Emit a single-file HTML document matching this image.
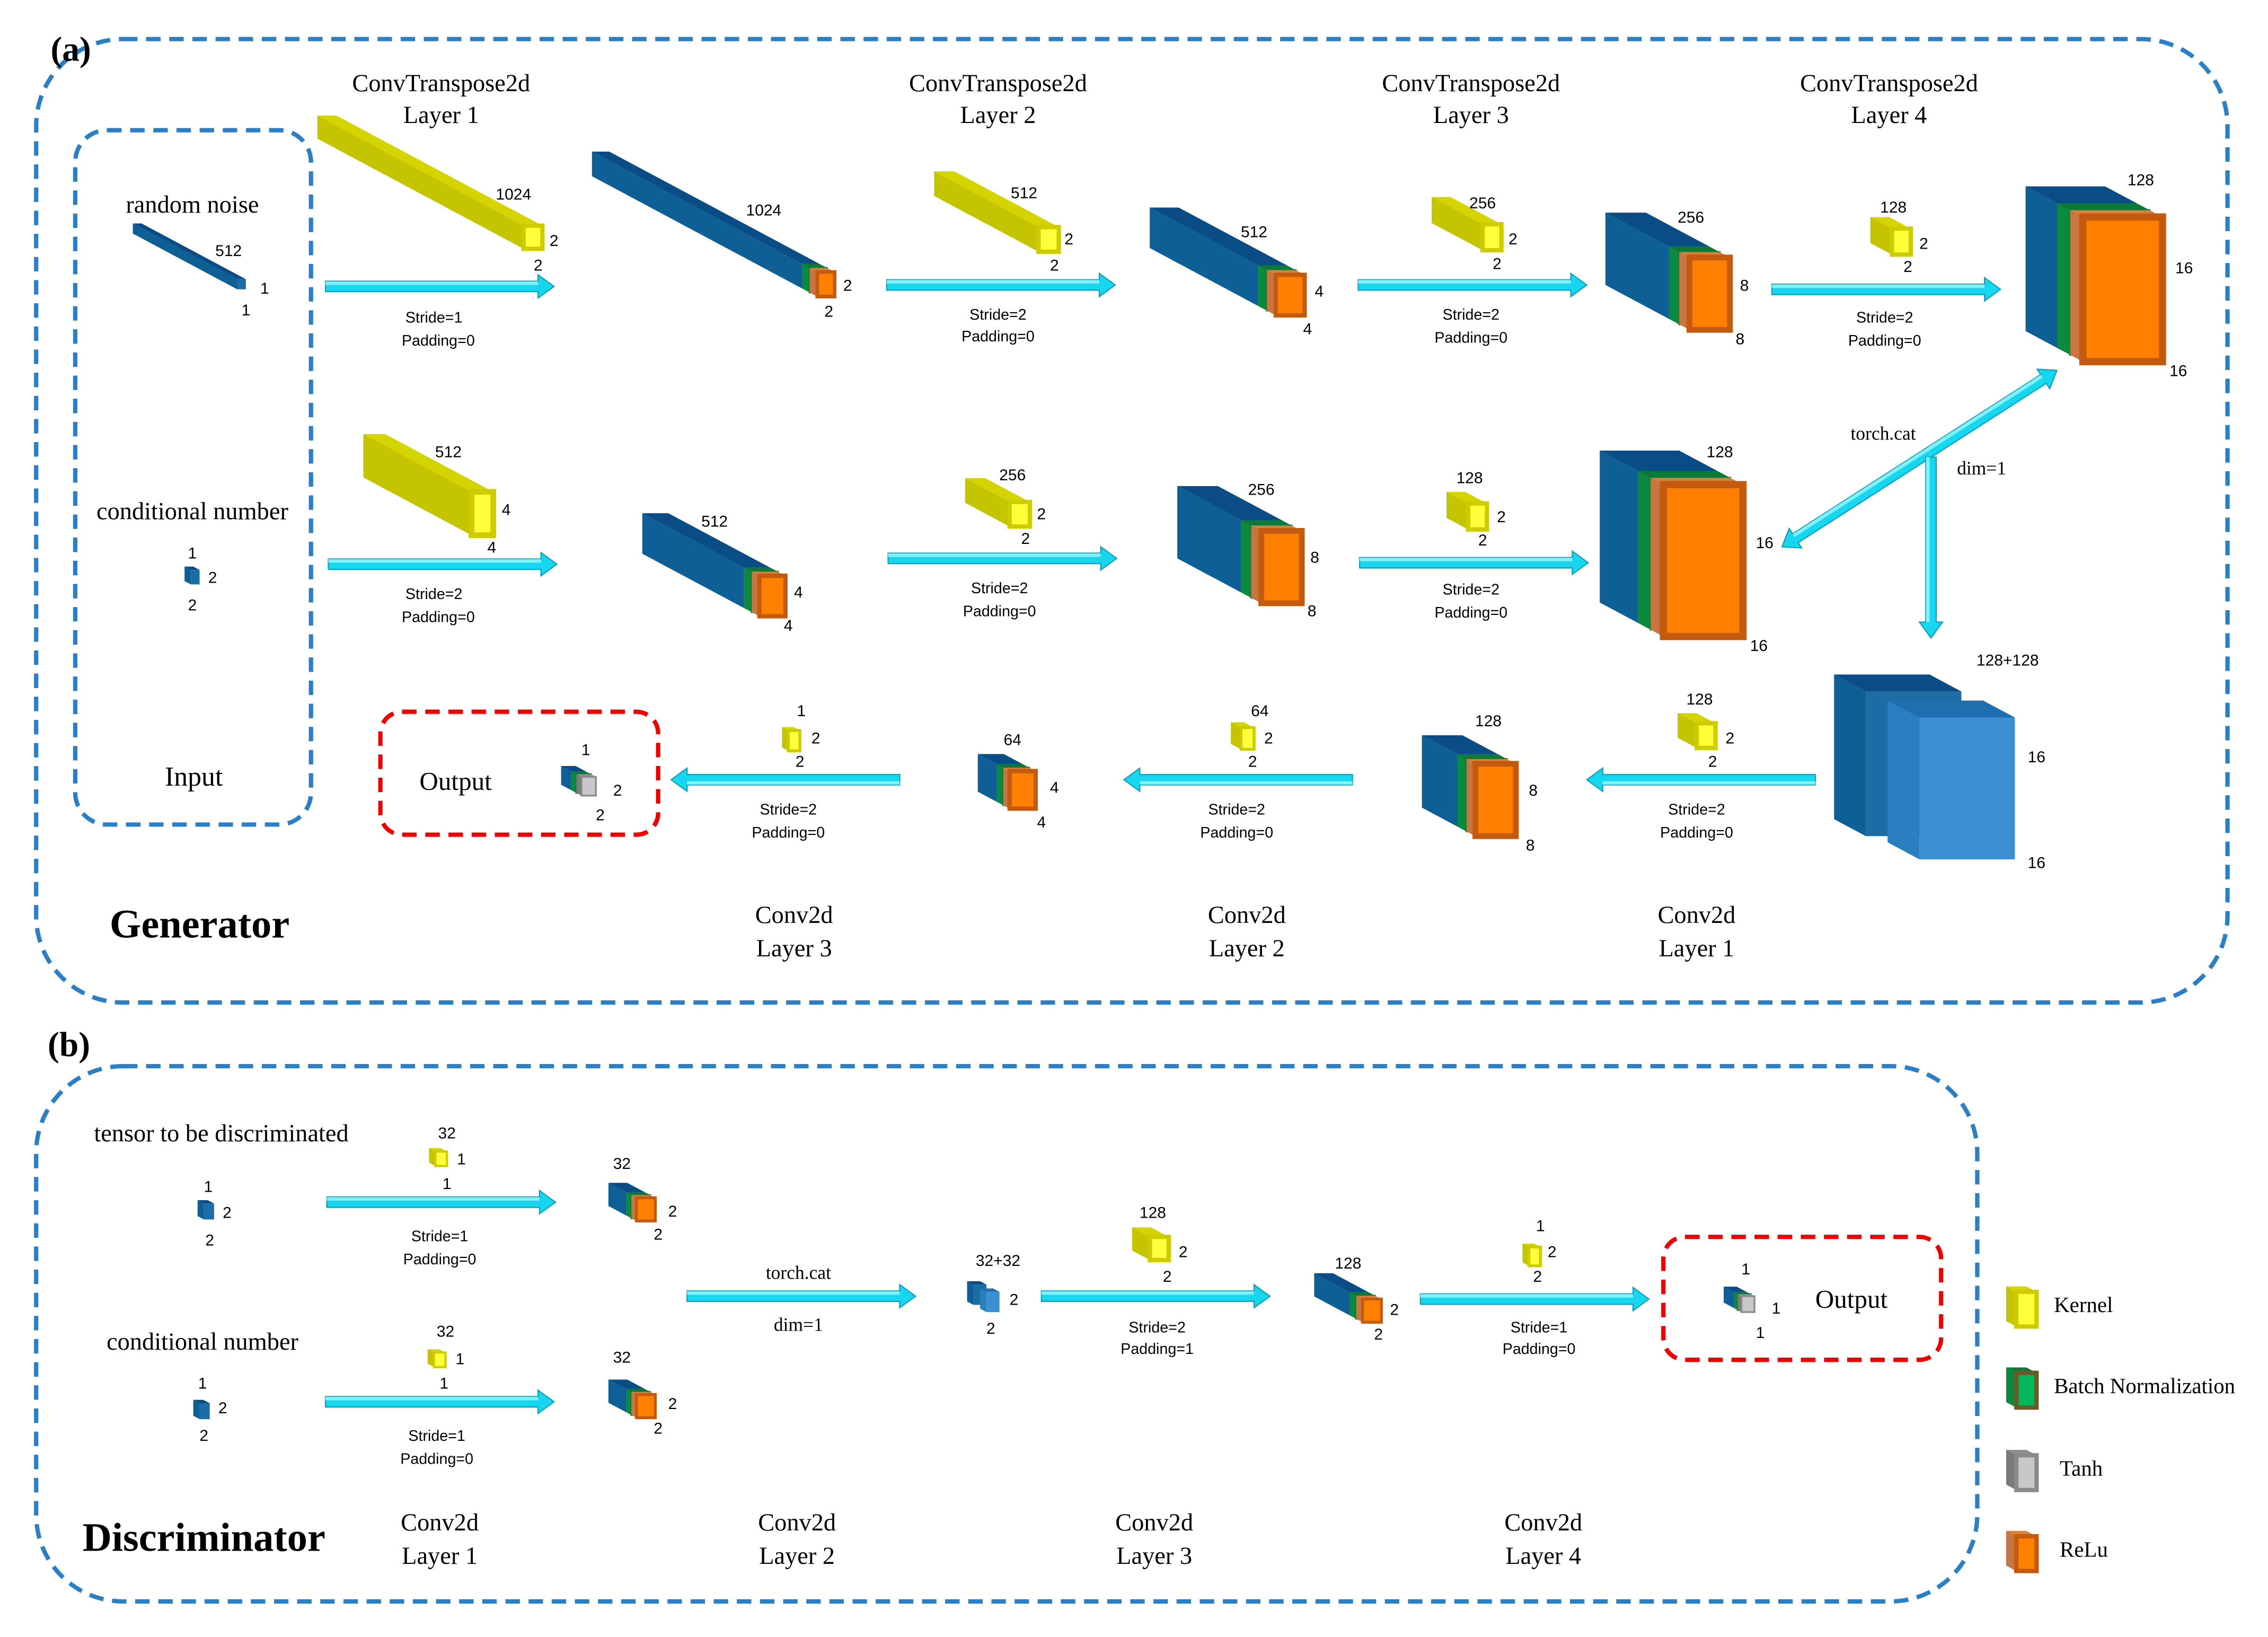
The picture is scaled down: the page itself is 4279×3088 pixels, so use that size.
<!DOCTYPE html>
<html><head><meta charset="utf-8">
<style>
html,body{margin:0;padding:0;background:#fff;}
svg{display:block;}
.s{font-family:"Liberation Serif",serif;fill:#000;}
.n{font-family:"Liberation Sans",sans-serif;font-size:11px;fill:#000;}
.p{font-family:"Liberation Sans",sans-serif;font-size:10.5px;fill:#000;}
.bf{fill:#1c6ca6}.bs{fill:#0e5f96}.bt{fill:#0a4c86}
.lf{fill:#3a90d2}.ls{fill:#2a7fc0}.lt{fill:#1f6fb0}
.gf{fill:#00b858;stroke:#0a7a36;stroke-width:1.2}.gs{fill:#0b8a3e}.gt{fill:#0a7a36}
.of{fill:#ff8000;stroke:#c45a10;stroke-width:1.5}.os{fill:#c97540}.ot{fill:#d8803e}
.yf{fill:#ffff3c;stroke:#cccc00;stroke-width:1.5}.ys{fill:#c4c400}.yt{fill:#d4d400}
.kf{fill:#c8c8c8;stroke:#8a8a8a;stroke-width:1.2}.ks{fill:#7a7a7a}.kt{fill:#8e8e8e}
.ar{fill:#17d6f0;stroke:#0b9fb8;stroke-width:0.8}
</style></head>
<body>
<svg width="4279" height="3088" viewBox="0 0 1568 1131.6" preserveAspectRatio="none" xmlns="http://www.w3.org/2000/svg" xmlns:xlink="http://www.w3.org/1999/xlink">
<defs>
<g id="ar"><polygon class="ar" points="0,-3.6 147,-3.6 147,-8 158,0 147,8 147,3.6 0,3.6"/><rect x="0" y="-3.4" width="147" height="2.4" fill="#80f2ff"/></g>
</defs>
<rect width="1568" height="1132" fill="#fff"/>
<g fill="none" stroke-width="3" stroke-dasharray="10 6">
<rect x="25" y="27" width="1515" height="666" rx="60" stroke="#2a7fc6"/>
<rect x="52" y="90" width="163" height="480" rx="22" stroke="#2a7fc6"/>
<rect x="25" y="737" width="1342" height="370" rx="60" stroke="#2a7fc6"/>
<rect x="263" y="492" width="192" height="85" rx="15" stroke="#f00000"/>
<rect x="1150" y="855" width="192" height="85" rx="15" stroke="#f00000"/>
</g>

<!-- row1 -->
<g transform="translate(164,193)"><rect class="bt" width="6" height="82" transform="matrix(1,0,-.88,-.47,0,0)"/><rect class="bs" width="82" height="7" transform="matrix(-.88,-.47,0,1,0,0)"/><rect class="bf" width="6" height="7"/></g>
<g transform="translate(362,156)"><rect class="yt" width="13" height="162" transform="matrix(1,0,-.88,-.47,0,0)"/><rect class="ys" width="162" height="16" transform="matrix(-.88,-.47,0,1,0,0)"/><rect class="yf" width="13" height="16" style="stroke-width:3"/></g>
<g transform="translate(554.44,182.36)"><rect class="bt" width="12" height="165" transform="matrix(1,0,-.88,-.47,0,0)"/><rect class="bs" width="165" height="17" transform="matrix(-.88,-.47,0,1,0,0)"/><rect class="bf" width="12" height="17"/></g>
<g transform="translate(559.72,185.18)"><rect class="gt" width="12" height="6" transform="matrix(1,0,-.88,-.47,0,0)"/><rect class="gs" width="6" height="17" transform="matrix(-.88,-.47,0,1,0,0)"/><rect class="gf" width="12" height="17"/></g>
<g transform="translate(565,188)"><rect class="ot" width="12" height="6" transform="matrix(1,0,-.88,-.47,0,0)"/><rect class="os" width="6" height="17" transform="matrix(-.88,-.47,0,1,0,0)"/><rect class="of" width="12" height="17" style="stroke-width:2.5"/></g>
<g transform="translate(718,157)"><rect class="yt" width="14" height="82" transform="matrix(1,0,-.88,-.47,0,0)"/><rect class="ys" width="82" height="17" transform="matrix(-.88,-.47,0,1,0,0)"/><rect class="yf" width="14" height="17" style="stroke-width:3"/></g>
<g transform="translate(869.68,183.42)"><rect class="bt" width="20" height="85" transform="matrix(1,0,-.88,-.47,0,0)"/><rect class="bs" width="85" height="28" transform="matrix(-.88,-.47,0,1,0,0)"/><rect class="bf" width="20" height="28"/></g>
<g transform="translate(875.84,186.71)"><rect class="gt" width="20" height="7" transform="matrix(1,0,-.88,-.47,0,0)"/><rect class="gs" width="7" height="28" transform="matrix(-.88,-.47,0,1,0,0)"/><rect class="gf" width="20" height="28"/></g>
<g transform="translate(882,190)"><rect class="ot" width="20" height="7" transform="matrix(1,0,-.88,-.47,0,0)"/><rect class="os" width="7" height="28" transform="matrix(-.88,-.47,0,1,0,0)"/><rect class="of" width="20" height="28" style="stroke-width:3"/></g>
<g transform="translate(1025,155)"><rect class="yt" width="13" height="40" transform="matrix(1,0,-.88,-.47,0,0)"/><rect class="ys" width="40" height="18" transform="matrix(-.88,-.47,0,1,0,0)"/><rect class="yf" width="13" height="18" style="stroke-width:3"/></g>
<g transform="translate(1153.92,170.48)"><rect class="bt" width="28" height="50" transform="matrix(1,0,-.88,-.47,0,0)"/><rect class="bs" width="50" height="50" transform="matrix(-.88,-.47,0,1,0,0)"/><rect class="bf" width="28" height="50"/></g>
<g transform="translate(1160.96,174.24)"><rect class="gt" width="28" height="8" transform="matrix(1,0,-.88,-.47,0,0)"/><rect class="gs" width="8" height="50" transform="matrix(-.88,-.47,0,1,0,0)"/><rect class="gf" width="28" height="50"/></g>
<g transform="translate(1168,178)"><rect class="ot" width="28" height="8" transform="matrix(1,0,-.88,-.47,0,0)"/><rect class="os" width="8" height="50" transform="matrix(-.88,-.47,0,1,0,0)"/><rect class="of" width="28" height="50" style="stroke-width:4"/></g>
<g transform="translate(1308,158)"><rect class="yt" width="13" height="17" transform="matrix(1,0,-.88,-.47,0,0)"/><rect class="ys" width="17" height="18" transform="matrix(-.88,-.47,0,1,0,0)"/><rect class="yf" width="13" height="18" style="stroke-width:3"/></g>
<g transform="translate(1422.4,140.6)"><rect class="bt" width="55" height="25" transform="matrix(1,0,-.88,-.47,0,0)"/><rect class="bs" width="25" height="100" transform="matrix(-.88,-.47,0,1,0,0)"/><rect class="bf" width="55" height="100"/></g>
<g transform="translate(1431.2,145.3)"><rect class="gt" width="55" height="10" transform="matrix(1,0,-.88,-.47,0,0)"/><rect class="gs" width="10" height="100" transform="matrix(-.88,-.47,0,1,0,0)"/><rect class="gf" width="55" height="100"/></g>
<g transform="translate(1440,150)"><rect class="ot" width="55" height="10" transform="matrix(1,0,-.88,-.47,0,0)"/><rect class="os" width="10" height="100" transform="matrix(-.88,-.47,0,1,0,0)"/><rect class="of" width="55" height="100" style="stroke-width:5"/></g>
<!-- row2 -->
<g transform="translate(132,394)"><rect class="bt" width="6" height="5" transform="matrix(1,0,-.88,-.47,0,0)"/><rect class="bs" width="5" height="10" transform="matrix(-.88,-.47,0,1,0,0)"/><rect class="bf" width="6" height="10"/></g>
<g transform="translate(326,340)"><rect class="yt" width="15" height="85" transform="matrix(1,0,-.88,-.47,0,0)"/><rect class="ys" width="85" height="30" transform="matrix(-.88,-.47,0,1,0,0)"/><rect class="yf" width="15" height="30" style="stroke-width:4"/></g>
<g transform="translate(514.44,392.36)"><rect class="bt" width="18" height="80" transform="matrix(1,0,-.88,-.47,0,0)"/><rect class="bs" width="80" height="28" transform="matrix(-.88,-.47,0,1,0,0)"/><rect class="bf" width="18" height="28"/></g>
<g transform="translate(519.72,395.18)"><rect class="gt" width="18" height="6" transform="matrix(1,0,-.88,-.47,0,0)"/><rect class="gs" width="6" height="28" transform="matrix(-.88,-.47,0,1,0,0)"/><rect class="gf" width="18" height="28"/></g>
<g transform="translate(525,398)"><rect class="ot" width="18" height="6" transform="matrix(1,0,-.88,-.47,0,0)"/><rect class="os" width="6" height="28" transform="matrix(-.88,-.47,0,1,0,0)"/><rect class="of" width="18" height="28" style="stroke-width:3"/></g>
<g transform="translate(698,347)"><rect class="yt" width="14" height="35" transform="matrix(1,0,-.88,-.47,0,0)"/><rect class="ys" width="35" height="17" transform="matrix(-.88,-.47,0,1,0,0)"/><rect class="yf" width="14" height="17" style="stroke-width:3"/></g>
<g transform="translate(857.92,359.48)"><rect class="bt" width="28" height="50" transform="matrix(1,0,-.88,-.47,0,0)"/><rect class="bs" width="50" height="50" transform="matrix(-.88,-.47,0,1,0,0)"/><rect class="bf" width="28" height="50"/></g>
<g transform="translate(864.96,363.24)"><rect class="gt" width="28" height="8" transform="matrix(1,0,-.88,-.47,0,0)"/><rect class="gs" width="8" height="50" transform="matrix(-.88,-.47,0,1,0,0)"/><rect class="gf" width="28" height="50"/></g>
<g transform="translate(872,367)"><rect class="ot" width="28" height="8" transform="matrix(1,0,-.88,-.47,0,0)"/><rect class="os" width="8" height="50" transform="matrix(-.88,-.47,0,1,0,0)"/><rect class="of" width="28" height="50" style="stroke-width:4"/></g>
<g transform="translate(1015,348)"><rect class="yt" width="13" height="17" transform="matrix(1,0,-.88,-.47,0,0)"/><rect class="ys" width="17" height="18" transform="matrix(-.88,-.47,0,1,0,0)"/><rect class="yf" width="13" height="18" style="stroke-width:3"/></g>
<g transform="translate(1132.4,325.6)"><rect class="bt" width="55" height="30" transform="matrix(1,0,-.88,-.47,0,0)"/><rect class="bs" width="30" height="105" transform="matrix(-.88,-.47,0,1,0,0)"/><rect class="bf" width="55" height="105"/></g>
<g transform="translate(1141.2,330.3)"><rect class="gt" width="55" height="10" transform="matrix(1,0,-.88,-.47,0,0)"/><rect class="gs" width="10" height="105" transform="matrix(-.88,-.47,0,1,0,0)"/><rect class="gf" width="55" height="105"/></g>
<g transform="translate(1150,335)"><rect class="ot" width="55" height="10" transform="matrix(1,0,-.88,-.47,0,0)"/><rect class="os" width="10" height="105" transform="matrix(-.88,-.47,0,1,0,0)"/><rect class="of" width="55" height="105" style="stroke-width:5"/></g>
<!-- row3 -->
<g transform="translate(1290,478)"><rect class="bt" width="66" height="25" transform="matrix(1,0,-.88,-.47,0,0)"/><rect class="bs" width="25" height="100" transform="matrix(-.88,-.47,0,1,0,0)"/><rect class="bf" width="66" height="100"/></g>
<g transform="translate(1327,496)"><rect class="lt" width="66" height="25" transform="matrix(1,0,-.88,-.47,0,0)"/><rect class="ls" width="25" height="98" transform="matrix(-.88,-.47,0,1,0,0)"/><rect class="lf" width="66" height="98"/></g>
<g transform="translate(1173,500)"><rect class="yt" width="13" height="15" transform="matrix(1,0,-.88,-.47,0,0)"/><rect class="ys" width="15" height="17" transform="matrix(-.88,-.47,0,1,0,0)"/><rect class="yf" width="13" height="17" style="stroke-width:3"/></g>
<g transform="translate(1007.68,521.42)"><rect class="bt" width="28" height="28" transform="matrix(1,0,-.88,-.47,0,0)"/><rect class="bs" width="28" height="50" transform="matrix(-.88,-.47,0,1,0,0)"/><rect class="bf" width="28" height="50"/></g>
<g transform="translate(1013.84,524.71)"><rect class="gt" width="28" height="7" transform="matrix(1,0,-.88,-.47,0,0)"/><rect class="gs" width="7" height="50" transform="matrix(-.88,-.47,0,1,0,0)"/><rect class="gf" width="28" height="50"/></g>
<g transform="translate(1020,528)"><rect class="ot" width="28" height="7" transform="matrix(1,0,-.88,-.47,0,0)"/><rect class="os" width="7" height="50" transform="matrix(-.88,-.47,0,1,0,0)"/><rect class="of" width="28" height="50" style="stroke-width:4"/></g>
<g transform="translate(858,503)"><rect class="yt" width="9" height="8" transform="matrix(1,0,-.88,-.47,0,0)"/><rect class="ys" width="8" height="15" transform="matrix(-.88,-.47,0,1,0,0)"/><rect class="yf" width="9" height="15" style="stroke-width:2"/></g>
<g transform="translate(689.2,528.3)"><rect class="bt" width="18" height="15" transform="matrix(1,0,-.88,-.47,0,0)"/><rect class="bs" width="15" height="26" transform="matrix(-.88,-.47,0,1,0,0)"/><rect class="bf" width="18" height="26"/></g>
<g transform="translate(693.6,530.65)"><rect class="gt" width="18" height="5" transform="matrix(1,0,-.88,-.47,0,0)"/><rect class="gs" width="5" height="26" transform="matrix(-.88,-.47,0,1,0,0)"/><rect class="gf" width="18" height="26"/></g>
<g transform="translate(698,533)"><rect class="ot" width="18" height="5" transform="matrix(1,0,-.88,-.47,0,0)"/><rect class="os" width="5" height="26" transform="matrix(-.88,-.47,0,1,0,0)"/><rect class="of" width="18" height="26" style="stroke-width:3"/></g>
<g transform="translate(545,505)"><rect class="yt" width="8" height="5" transform="matrix(1,0,-.88,-.47,0,0)"/><rect class="ys" width="5" height="14" transform="matrix(-.88,-.47,0,1,0,0)"/><rect class="yf" width="8" height="14" style="stroke-width:2"/></g>
<g transform="translate(394.96,533.24)"><rect class="bt" width="10" height="8" transform="matrix(1,0,-.88,-.47,0,0)"/><rect class="bs" width="8" height="13" transform="matrix(-.88,-.47,0,1,0,0)"/><rect class="bf" width="10" height="13"/></g>
<g transform="translate(398.48,535.12)"><rect class="gt" width="10" height="4" transform="matrix(1,0,-.88,-.47,0,0)"/><rect class="gs" width="4" height="13" transform="matrix(-.88,-.47,0,1,0,0)"/><rect class="gf" width="10" height="13"/></g>
<g transform="translate(402,537)"><rect class="kt" width="10" height="4" transform="matrix(1,0,-.88,-.47,0,0)"/><rect class="ks" width="4" height="13" transform="matrix(-.88,-.47,0,1,0,0)"/><rect class="kf" width="10" height="13"/></g>
<!-- (b) -->
<g transform="translate(141,832)"><rect class="bt" width="7" height="5" transform="matrix(1,0,-.88,-.47,0,0)"/><rect class="bs" width="5" height="11" transform="matrix(-.88,-.47,0,1,0,0)"/><rect class="bf" width="7" height="11"/></g>
<g transform="translate(301,796)"><rect class="yt" width="8" height="5" transform="matrix(1,0,-.88,-.47,0,0)"/><rect class="ys" width="5" height="10" transform="matrix(-.88,-.47,0,1,0,0)"/><rect class="yf" width="8" height="10"/></g>
<g transform="translate(432.96,824.24)"><rect class="bt" width="13" height="14" transform="matrix(1,0,-.88,-.47,0,0)"/><rect class="bs" width="14" height="16" transform="matrix(-.88,-.47,0,1,0,0)"/><rect class="bf" width="13" height="16"/></g>
<g transform="translate(436.48,826.12)"><rect class="gt" width="13" height="4" transform="matrix(1,0,-.88,-.47,0,0)"/><rect class="gs" width="4" height="16" transform="matrix(-.88,-.47,0,1,0,0)"/><rect class="gf" width="13" height="16"/></g>
<g transform="translate(440,828)"><rect class="ot" width="13" height="4" transform="matrix(1,0,-.88,-.47,0,0)"/><rect class="os" width="4" height="16" transform="matrix(-.88,-.47,0,1,0,0)"/><rect class="of" width="13" height="16" style="stroke-width:2"/></g>
<g transform="translate(138,970)"><rect class="bt" width="7" height="5" transform="matrix(1,0,-.88,-.47,0,0)"/><rect class="bs" width="5" height="11" transform="matrix(-.88,-.47,0,1,0,0)"/><rect class="bf" width="7" height="11"/></g>
<g transform="translate(300,935)"><rect class="yt" width="8" height="5" transform="matrix(1,0,-.88,-.47,0,0)"/><rect class="ys" width="5" height="10" transform="matrix(-.88,-.47,0,1,0,0)"/><rect class="yf" width="8" height="10"/></g>
<g transform="translate(432.96,960.24)"><rect class="bt" width="13" height="14" transform="matrix(1,0,-.88,-.47,0,0)"/><rect class="bs" width="14" height="16" transform="matrix(-.88,-.47,0,1,0,0)"/><rect class="bf" width="13" height="16"/></g>
<g transform="translate(436.48,962.12)"><rect class="gt" width="13" height="4" transform="matrix(1,0,-.88,-.47,0,0)"/><rect class="gs" width="4" height="16" transform="matrix(-.88,-.47,0,1,0,0)"/><rect class="gf" width="13" height="16"/></g>
<g transform="translate(440,964)"><rect class="ot" width="13" height="4" transform="matrix(1,0,-.88,-.47,0,0)"/><rect class="os" width="4" height="16" transform="matrix(-.88,-.47,0,1,0,0)"/><rect class="of" width="13" height="16" style="stroke-width:2"/></g>
<g transform="translate(673,888)"><rect class="bt" width="9" height="5" transform="matrix(1,0,-.88,-.47,0,0)"/><rect class="bs" width="5" height="14" transform="matrix(-.88,-.47,0,1,0,0)"/><rect class="bf" width="9" height="14"/></g>
<g transform="translate(682,893)"><rect class="lt" width="9" height="5" transform="matrix(1,0,-.88,-.47,0,0)"/><rect class="ls" width="5" height="14" transform="matrix(-.88,-.47,0,1,0,0)"/><rect class="lf" width="9" height="14"/></g>
<g transform="translate(795,855)"><rect class="yt" width="13" height="14" transform="matrix(1,0,-.88,-.47,0,0)"/><rect class="ys" width="14" height="16" transform="matrix(-.88,-.47,0,1,0,0)"/><rect class="yf" width="13" height="16" style="stroke-width:3"/></g>
<g transform="translate(933.2,893.3)"><rect class="bt" width="13" height="28" transform="matrix(1,0,-.88,-.47,0,0)"/><rect class="bs" width="28" height="16" transform="matrix(-.88,-.47,0,1,0,0)"/><rect class="bf" width="13" height="16"/></g>
<g transform="translate(937.6,895.65)"><rect class="gt" width="13" height="5" transform="matrix(1,0,-.88,-.47,0,0)"/><rect class="gs" width="5" height="16" transform="matrix(-.88,-.47,0,1,0,0)"/><rect class="gf" width="13" height="16"/></g>
<g transform="translate(942,898)"><rect class="ot" width="13" height="5" transform="matrix(1,0,-.88,-.47,0,0)"/><rect class="os" width="5" height="16" transform="matrix(-.88,-.47,0,1,0,0)"/><rect class="of" width="13" height="16" style="stroke-width:2"/></g>
<g transform="translate(1057,862)"><rect class="yt" width="8" height="5" transform="matrix(1,0,-.88,-.47,0,0)"/><rect class="ys" width="5" height="13" transform="matrix(-.88,-.47,0,1,0,0)"/><rect class="yf" width="8" height="13" style="stroke-width:2"/></g>
<g transform="translate(1198.72,893.18)"><rect class="bt" width="9" height="8" transform="matrix(1,0,-.88,-.47,0,0)"/><rect class="bs" width="8" height="11" transform="matrix(-.88,-.47,0,1,0,0)"/><rect class="bf" width="9" height="11"/></g>
<g transform="translate(1201.36,894.59)"><rect class="gt" width="9" height="3" transform="matrix(1,0,-.88,-.47,0,0)"/><rect class="gs" width="3" height="11" transform="matrix(-.88,-.47,0,1,0,0)"/><rect class="gf" width="9" height="11"/></g>
<g transform="translate(1204,896)"><rect class="kt" width="9" height="3" transform="matrix(1,0,-.88,-.47,0,0)"/><rect class="ks" width="3" height="11" transform="matrix(-.88,-.47,0,1,0,0)"/><rect class="kf" width="9" height="11"/></g>
<!-- legend -->
<g transform="translate(1394,893)"><rect class="yt" width="14" height="8" transform="matrix(1,0,-.88,-.47,0,0)"/><rect class="ys" width="8" height="24" transform="matrix(-.88,-.47,0,1,0,0)"/><rect class="yf" width="14" height="24" style="stroke-width:3"/></g>
<g transform="translate(1394,949)"><rect class="gt" width="14" height="8" transform="matrix(1,0,-.88,-.47,0,0)"/><rect class="gs" width="8" height="24" transform="matrix(-.88,-.47,0,1,0,0)"/><rect class="gf" width="14" height="24" style="stroke-width:3;stroke:#6a5a2a"/></g>
<g transform="translate(1394,1006)"><rect class="kt" width="14" height="8" transform="matrix(1,0,-.88,-.47,0,0)"/><rect class="ks" width="8" height="24" transform="matrix(-.88,-.47,0,1,0,0)"/><rect class="kf" width="14" height="24" style="stroke-width:3"/></g>
<g transform="translate(1394,1062)"><rect class="ot" width="14" height="8" transform="matrix(1,0,-.88,-.47,0,0)"/><rect class="os" width="8" height="24" transform="matrix(-.88,-.47,0,1,0,0)"/><rect class="of" width="14" height="24" style="stroke-width:3"/></g>

<!-- arrows -->
<use xlink:href="#ar" href="#ar" transform="translate(225,198)"/>
<use xlink:href="#ar" href="#ar" transform="translate(613,197)"/>
<use xlink:href="#ar" href="#ar" transform="translate(939,197)"/>
<use xlink:href="#ar" href="#ar" transform="translate(1225,200)"/>
<use xlink:href="#ar" href="#ar" transform="translate(227,390)"/>
<use xlink:href="#ar" href="#ar" transform="translate(614,386)"/>
<use xlink:href="#ar" href="#ar" transform="translate(940,389)"/>
<use xlink:href="#ar" href="#ar" transform="translate(1255,539) rotate(180)"/>
<use xlink:href="#ar" href="#ar" transform="translate(935,539) rotate(180)"/>
<use xlink:href="#ar" href="#ar" transform="translate(622,539) rotate(180)"/>
<use xlink:href="#ar" href="#ar" transform="translate(226,831)"/>
<use xlink:href="#ar" href="#ar" transform="translate(225,969)"/>
<use xlink:href="#ar" href="#ar" transform="translate(475,896)"/>
<use xlink:href="#ar" href="#ar" transform="translate(720,896)"/>
<use xlink:href="#ar" href="#ar" transform="translate(982,898)"/>
<g transform="translate(1232,378) rotate(-32.7)"><polygon class="ar" points="11,-3.6 214.8,-3.6 214.8,-8 225.8,0 214.8,8 214.8,3.6 11,3.6 11,8 0,0 11,-8"/><rect x="11" y="-3.4" width="203.8" height="2.4" fill="#80f2ff"/></g>
<g transform="translate(1335,316) rotate(90)"><polygon class="ar" points="0,-3.6 114,-3.6 114,-8 125,0 114,8 114,3.6 0,3.6"/><rect x="0" y="1" width="114" height="2.4" fill="#80f2ff"/></g>

<!-- texts -->
<text class="s" x="35" y="42" font-size="24" font-weight="bold">(a)</text>
<text class="s" x="33" y="730" font-size="24" font-weight="bold">(b)</text>
<g class="s" font-size="17" text-anchor="middle">
<text x="305" y="63">ConvTranspose2d</text><text x="305" y="85">Layer 1</text>
<text x="690" y="63">ConvTranspose2d</text><text x="690" y="85">Layer 2</text>
<text x="1017" y="63">ConvTranspose2d</text><text x="1017" y="85">Layer 3</text>
<text x="1306" y="63">ConvTranspose2d</text><text x="1306" y="85">Layer 4</text>
<text x="133" y="147">random noise</text>
<text x="133" y="359">conditional number</text>
<text x="134" y="543" font-size="19">Input</text>
<text x="315" y="546" font-size="18">Output</text>
<text x="1280" y="904" font-size="18">Output</text>
<text x="549" y="638">Conv2d</text><text x="549" y="661">Layer 3</text>
<text x="862" y="638">Conv2d</text><text x="862" y="661">Layer 2</text>
<text x="1173" y="638">Conv2d</text><text x="1173" y="661">Layer 1</text>
<text x="153" y="789">tensor to be discriminated</text>
<text x="140" y="933">conditional number</text>
<text x="304" y="1058">Conv2d</text><text x="304" y="1081">Layer 1</text>
<text x="551" y="1058">Conv2d</text><text x="551" y="1081">Layer 2</text>
<text x="798" y="1058">Conv2d</text><text x="798" y="1081">Layer 3</text>
<text x="1067" y="1058">Conv2d</text><text x="1067" y="1081">Layer 4</text>
<text x="1302" y="304" font-size="13">torch.cat</text>
<text x="1370" y="328" font-size="13">dim=1</text>
<text x="552" y="884" font-size="13">torch.cat</text>
<text x="552" y="920" font-size="13">dim=1</text>
</g>
<text class="s" x="138" y="648" font-size="28" font-weight="bold" text-anchor="middle">Generator</text>
<text class="s" x="141" y="1072" font-size="28" font-weight="bold" text-anchor="middle">Discriminator</text>
<g class="s" font-size="15">
<text x="1420" y="907">Kernel</text>
<text x="1420" y="963">Batch Normalization</text>
<text x="1424" y="1020">Tanh</text>
<text x="1424" y="1076">ReLu</text>
</g>
<g class="p" text-anchor="middle">
<text x="300" y="223">Stride=1</text><text x="303" y="239">Padding=0</text>
<text x="690" y="221">Stride=2</text><text x="690" y="236">Padding=0</text>
<text x="1017" y="221">Stride=2</text><text x="1017" y="237">Padding=0</text>
<text x="1303" y="223">Stride=2</text><text x="1303" y="239">Padding=0</text>
<text x="300" y="414">Stride=2</text><text x="303" y="430">Padding=0</text>
<text x="691" y="410">Stride=2</text><text x="691" y="426">Padding=0</text>
<text x="1017" y="411">Stride=2</text><text x="1017" y="427">Padding=0</text>
<text x="1173" y="563">Stride=2</text><text x="1173" y="579">Padding=0</text>
<text x="855" y="563">Stride=2</text><text x="855" y="579">Padding=0</text>
<text x="545" y="563">Stride=2</text><text x="545" y="579">Padding=0</text>
<text x="304" y="858">Stride=1</text><text x="304" y="874">Padding=0</text>
<text x="302" y="996">Stride=1</text><text x="302" y="1012">Padding=0</text>
<text x="800" y="921">Stride=2</text><text x="800" y="936">Padding=1</text>
<text x="1064" y="921">Stride=1</text><text x="1064" y="936">Padding=0</text>
</g>
<g class="n" text-anchor="middle">
<text x="158" y="177">512</text><text x="183" y="203">1</text><text x="170" y="218">1</text>
<text x="355" y="138">1024</text><text x="383" y="170">2</text><text x="372" y="187">2</text>
<text x="528" y="149">1024</text><text x="586" y="201">2</text><text x="573" y="219">2</text>
<text x="708" y="137">512</text><text x="739" y="169">2</text><text x="729" y="187">2</text>
<text x="867" y="164">512</text><text x="912" y="205">4</text><text x="904" y="231">4</text>
<text x="1025" y="144">256</text><text x="1046" y="169">2</text><text x="1035" y="186">2</text>
<text x="1169" y="154">256</text><text x="1206" y="201">8</text><text x="1203" y="238">8</text>
<text x="1309" y="147">128</text><text x="1330" y="172">2</text><text x="1319" y="188">2</text>
<text x="1480" y="128">128</text><text x="1510" y="189">16</text><text x="1506" y="260">16</text>
<text x="133" y="386">1</text><text x="147" y="403">2</text><text x="133" y="422">2</text>
<text x="310" y="316">512</text><text x="350" y="356">4</text><text x="340" y="382">4</text>
<text x="494" y="364">512</text><text x="552" y="413">4</text><text x="545" y="436">4</text>
<text x="700" y="332">256</text><text x="720" y="359">2</text><text x="709" y="376">2</text>
<text x="872" y="342">256</text><text x="909" y="389">8</text><text x="907" y="426">8</text>
<text x="1016" y="334">128</text><text x="1038" y="361">2</text><text x="1025" y="377">2</text>
<text x="1189" y="316">128</text><text x="1220" y="379">16</text><text x="1216" y="450">16</text>
<text x="1388" y="460">128+128</text><text x="1408" y="527">16</text><text x="1408" y="600">16</text>
<text x="1175" y="487">128</text><text x="1196" y="514">2</text><text x="1184" y="530">2</text>
<text x="1029" y="502">128</text><text x="1060" y="550">8</text><text x="1058" y="588">8</text>
<text x="871" y="495">64</text><text x="877" y="514">2</text><text x="866" y="530">2</text>
<text x="700" y="515">64</text><text x="729" y="548">4</text><text x="720" y="572">4</text>
<text x="554" y="495">1</text><text x="564" y="514">2</text><text x="553" y="530">2</text>
<text x="405" y="522">1</text><text x="427" y="550">2</text><text x="415" y="567">2</text>
<text x="144" y="824">1</text><text x="157" y="842">2</text><text x="145" y="861">2</text>
<text x="309" y="787">32</text><text x="319" y="805">1</text><text x="309" y="822">1</text>
<text x="430" y="808">32</text><text x="465" y="841">2</text><text x="455" y="857">2</text>
<text x="140" y="960">1</text><text x="154" y="977">2</text><text x="141" y="996">2</text>
<text x="308" y="924">32</text><text x="318" y="943">1</text><text x="307" y="960">1</text>
<text x="430" y="942">32</text><text x="465" y="974">2</text><text x="455" y="991">2</text>
<text x="690" y="875">32+32</text><text x="701" y="902">2</text><text x="685" y="922">2</text>
<text x="797" y="842">128</text><text x="818" y="869">2</text><text x="807" y="886">2</text>
<text x="932" y="877">128</text><text x="964" y="909">2</text><text x="953" y="926">2</text>
<text x="1065" y="851">1</text><text x="1073" y="869">2</text><text x="1063" y="886">2</text>
<text x="1207" y="881">1</text><text x="1228" y="908">1</text><text x="1217" y="925">1</text>
</g>
</svg>
</body></html>
